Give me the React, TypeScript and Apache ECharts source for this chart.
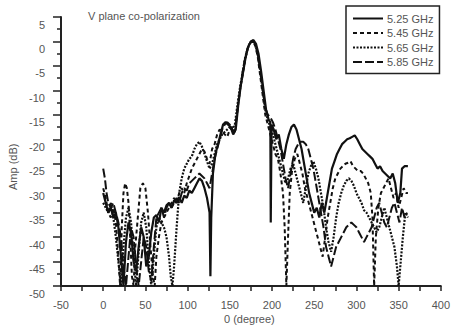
import React, { useEffect, useRef } from "react";
import * as echarts from "echarts";

const seriesNames = ["5.25 GHz", "5.45 GHz", "5.65 GHz", "5.85 GHz"];
const xTicks = [-50, 400, 50];
const yTicks = [-50, 5, 5];

const s525: number[][] = [[0,-31],[3,-33],[6,-35],[9,-34],[12,-36],[15,-35],[18,-38],[21,-44],[24,-50],[27,-41],[30,-37],[33,-39],[36,-45],[39,-47],[42,-42],[45,-38],[48,-40],[51,-46],[54,-44],[57,-39],[60,-36],[63,-35.5],[66,-37],[69,-34],[72,-35],[75,-33.5],[78,-33],[81,-34],[84,-32.5],[87,-33],[90,-32],[93,-33],[96,-31.5],[99,-32],[102,-30.5],[105,-31],[108,-30],[111,-29],[114,-28],[117,-28.5],[120,-30],[123,-32],[126,-35],[127,-48],[128,-36],[130,-27],[133,-23],[136,-21],[139,-19],[142,-17],[145,-16.5],[148,-17],[151,-17.5],[154,-19],[157,-18],[160,-13],[163,-9],[166,-6],[169,-3],[172,-1],[175,0],[178,0.3],[181,-0.5],[184,-2.5],[187,-6],[190,-10],[193,-14],[196,-16],[198,-16.5],[198.5,-37],[199.5,-17],[202,-18],[205,-20],[208,-19],[211,-22],[214,-24],[217,-21],[220,-19],[223,-17.5],[226,-17],[229,-18],[232,-20],[235,-22],[238,-25],[241,-28],[244,-31],[247,-33],[250,-35],[253,-34],[256,-36],[259,-33],[262,-35],[265,-32],[268,-29],[271,-26],[274,-24.5],[277,-23],[280,-22],[283,-21],[286,-20.5],[289,-20],[292,-19.8],[295,-19.5],[298,-19.2],[301,-20],[304,-21],[307,-22],[310,-22.5],[313,-23],[316,-23.5],[319,-24],[322,-25],[325,-26],[328,-25.5],[331,-26.5],[334,-27],[337,-27.5],[340,-28],[343,-27],[346,-29],[349,-33],[352,-31],[354,-26],[357,-25.5],[361,-25.5]];

const s545: number[][] = [[0,-30],[3,-32],[6,-35],[9,-36],[12,-34],[15,-37],[18,-44],[20,-50],[22,-38],[24,-31],[26,-29],[28,-30],[30,-33],[32,-40],[34,-48],[36,-50],[38,-42],[41,-36],[44,-30],[47,-29],[50,-30],[53,-35],[56,-42],[59,-48],[61,-50],[63,-44],[66,-40],[69,-37],[72,-36],[75,-35],[78,-34],[81,-33],[84,-32],[87,-33],[90,-31],[93,-30],[96,-31],[99,-29],[102,-27.5],[105,-26],[108,-25],[111,-24],[114,-23],[117,-22],[120,-22.5],[123,-24],[126,-25],[129,-22],[132,-21],[135,-19],[138,-18],[141,-18.5],[144,-19],[147,-19.5],[150,-18],[153,-17.5],[156,-18.5],[159,-14],[162,-10],[165,-7],[168,-4],[171,-1.5],[174,-0.3],[177,0],[180,-0.8],[183,-3],[186,-7],[189,-11],[192,-15],[195,-17],[198,-19],[201,-21],[204,-23],[207,-24],[210,-27],[213,-31],[215,-38],[217,-50],[219,-40],[221,-31],[224,-26],[227,-24],[230,-23],[233,-25],[236,-27],[239,-30],[242,-32],[245,-34],[248,-36],[251,-38],[254,-40],[257,-42],[260,-44],[263,-40],[266,-36],[269,-33],[272,-30],[275,-28],[278,-27],[281,-26],[284,-25.5],[287,-25],[290,-24.8],[293,-24.5],[296,-25.5],[299,-26],[302,-26.5],[305,-26.5],[308,-27],[311,-28],[314,-29],[317,-31],[319,-36],[321,-50],[323,-40],[326,-34],[329,-31],[332,-30],[335,-29],[338,-28],[341,-30],[344,-32],[347,-31],[350,-34],[353,-32],[356,-30],[359,-31],[361,-31]];

const s565: number[][] = [[0,-33],[3,-34],[6,-35],[9,-33],[12,-36],[15,-40],[18,-45],[21,-50],[24,-42],[27,-36],[30,-34],[33,-37],[36,-44],[39,-50],[42,-43],[45,-37],[48,-35],[51,-38],[54,-45],[57,-50],[60,-44],[63,-38],[66,-36],[69,-37],[72,-38],[75,-40],[78,-44],[80,-48],[82,-50],[84,-46],[87,-38],[90,-31],[93,-28],[96,-26],[99,-25],[102,-24],[105,-23.5],[108,-22],[111,-21],[114,-20.5],[117,-21.5],[120,-23],[123,-24.5],[126,-26],[129,-25],[132,-23],[135,-21],[138,-20],[141,-19],[144,-18.5],[147,-18],[150,-17.5],[153,-18],[156,-17],[159,-13],[162,-9.5],[165,-6.5],[168,-3.5],[171,-1.5],[174,-0.2],[177,0.2],[180,-0.6],[183,-2.5],[186,-6],[189,-10],[192,-14],[195,-16],[198,-17.5],[201,-19],[204,-21],[207,-23],[210,-25],[213,-27],[216,-29],[219,-28],[222,-26],[225,-25],[228,-27],[231,-29],[234,-31],[237,-33],[240,-30],[243,-27],[246,-25.5],[249,-24.5],[252,-26],[255,-28],[258,-31],[261,-34],[264,-38],[267,-41],[270,-43],[273,-40],[276,-36],[279,-33],[282,-31],[285,-29.5],[288,-28.5],[291,-28],[294,-28.5],[297,-29.5],[300,-31],[303,-32],[306,-33],[309,-34.5],[312,-35],[315,-36],[318,-37],[321,-38],[324,-39],[327,-38],[330,-36],[333,-34],[336,-36],[339,-38],[342,-40],[345,-42],[348,-46],[350,-50],[352,-46],[355,-40],[358,-35],[361,-36]];

const s585: number[][] = [[0,-26],[2,-28],[4,-31],[6,-33],[9,-34],[12,-33],[15,-35],[18,-37],[21,-40],[24,-46],[27,-50],[30,-44],[33,-38],[36,-40],[39,-46],[42,-50],[45,-45],[48,-40],[51,-42],[54,-47],[57,-49],[60,-42],[63,-36],[66,-35],[69,-34],[72,-36],[75,-34],[78,-33],[81,-34],[84,-33],[87,-32],[90,-33],[93,-31],[96,-30],[99,-30.5],[102,-29],[105,-28.5],[108,-28],[111,-27.5],[114,-27],[117,-27.5],[120,-28],[123,-29],[126,-30],[129,-27],[132,-24],[135,-22],[138,-20],[141,-18],[144,-17],[147,-16.5],[150,-17],[153,-18],[156,-18.5],[159,-14],[162,-10],[165,-6.5],[168,-3.5],[171,-1.5],[174,-0.3],[177,0.1],[180,-0.5],[183,-2.5],[186,-6],[189,-10],[192,-13.5],[195,-15],[198,-15.5],[201,-16.5],[204,-18],[207,-20],[210,-22],[213,-25],[216,-28],[219,-30],[222,-27],[225,-24],[228,-22],[231,-21],[234,-20.5],[237,-20.5],[240,-21],[243,-22],[246,-24],[249,-26],[252,-29],[255,-32],[258,-35],[261,-38],[264,-42],[267,-44],[270,-46],[273,-44],[276,-42],[279,-41],[282,-40],[285,-39],[288,-38],[291,-37.5],[294,-37],[297,-37.5],[300,-38],[303,-39],[306,-40],[309,-41],[312,-40],[315,-39],[318,-38],[321,-36],[324,-34],[327,-33],[330,-35],[333,-37],[336,-38],[339,-36],[342,-34],[345,-33],[348,-35],[351,-37],[354,-34],[357,-36],[360,-35]];

const seriesData = [s525, s545, s565, s585];
const dashes: any[] = ["solid", [4, 3], [2, 1.5], [9, 3]];
const widths = [2.2, 2, 2.2, 2];

const FONT = "'Liberation Sans', Arial, sans-serif";
const TXT = "#555";

export default function App() {
  const ref = useRef<HTMLDivElement>(null);
  useEffect(() => {
    const chart = echarts.init(ref.current!, null, { renderer: "svg" });
    chart.setOption({
      animation: false,
      backgroundColor: "#fff",
      grid: { left: 61, right: 10, top: 17, bottom: 44 },
      legend: {
        orient: "vertical",
        left: 346,
        top: 6,
        data: seriesNames,
        itemWidth: 30,
        itemHeight: 10,
        itemGap: 3.5,
        padding: [7, 6, 6, 6],
        borderColor: "#222",
        borderWidth: 1.5,
        itemStyle: { opacity: 0 },
        textStyle: { fontFamily: FONT, fontSize: 11, color: TXT, padding: [0, 0, 0, -1] },
      },
      graphic: [
        {
          type: "text",
          left: 88,
          top: 10,
          style: { text: "V plane co-polarization", font: `11px ${FONT}`, fill: TXT },
        },
        {
          type: "text",
          x: 7,
          y: 190,
          rotation: Math.PI / 2,
          style: { text: "Amp (dB)", font: `11px ${FONT}`, fill: TXT },
        },
        {
          type: "text",
          left: 224,
          top: 313,
          style: { text: "0 (degree)", font: `11px ${FONT}`, fill: TXT },
        },
      ],
      xAxis: {
        type: "value",
        min: xTicks[0],
        max: xTicks[1],
        interval: xTicks[2],
        splitLine: { show: false },
        axisLine: { onZero: false, lineStyle: { color: "#222", width: 2 } },
        axisTick: { length: 5, lineStyle: { color: "#222", width: 1.5 } },
        minorTick: { show: true, splitNumber: 2, length: 5, lineStyle: { color: "#222", width: 1.5 } },
        axisLabel: { fontFamily: FONT, fontSize: 11, color: TXT, margin: 13 },
      },
      yAxis: {
        type: "value",
        min: yTicks[0],
        max: yTicks[1],
        interval: yTicks[2],
        splitLine: { show: false },
        axisLine: { show: true, onZero: false, lineStyle: { color: "#222", width: 2 } },
        axisTick: { show: true, length: 8, lineStyle: { color: "#222", width: 1.5 } },
        minorTick: { show: true, splitNumber: 2, length: 4, lineStyle: { color: "#222", width: 1.5 } },
        axisLabel: {
          fontFamily: FONT,
          fontSize: 11,
          color: TXT,
          margin: 16,
          verticalAlign: "top",
          padding: [2, 0, 0, 0],
        },
      },
      series: seriesNames.map((name, i) => ({
        name,
        type: "line",
        data: seriesData[i],
        symbol: "none",
        lineStyle: { color: "#111", width: widths[i], type: dashes[i] },
        itemStyle: { color: "#111" },
        z: 4 - i,
      })),
    });
    return () => chart.dispose();
  }, []);
  return <div ref={ref} style={{ width: 453, height: 330, position: "absolute", left: 0, top: 0 }} />;
}
